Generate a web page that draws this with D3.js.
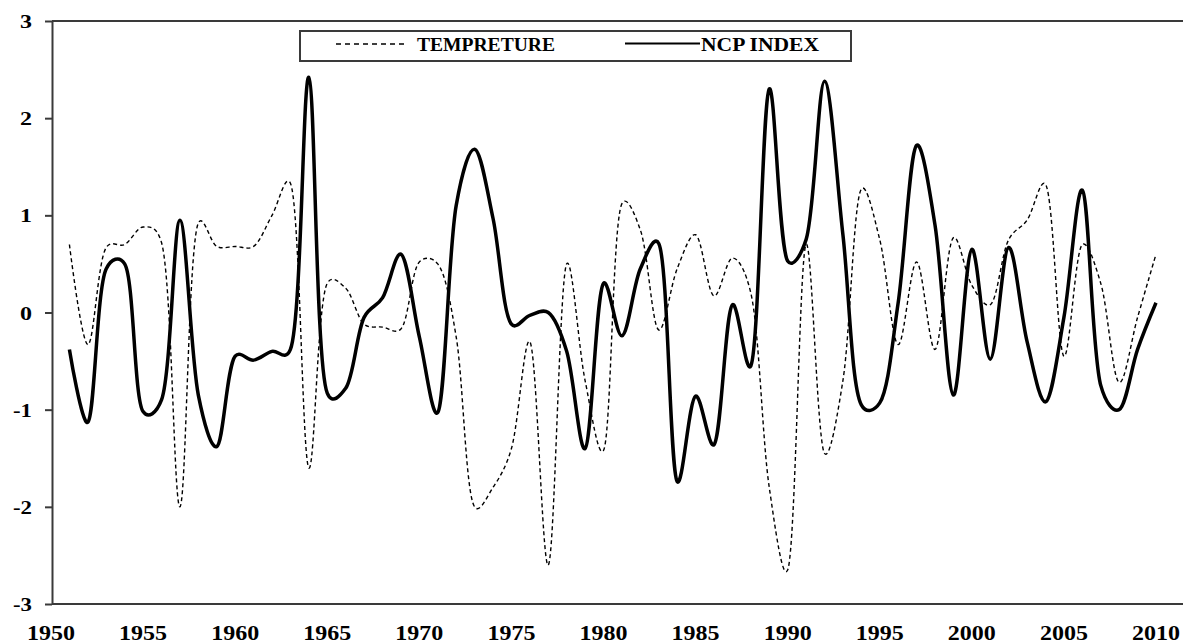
<!DOCTYPE html>
<html>
<head>
<meta charset="utf-8">
<script src="https://cdn.jsdelivr.net/npm/d3@7"></script>
<style>
  body { margin: 0; background: #fff; }
  text { font-family: "Liberation Serif", "Times New Roman", serif; font-weight: bold; fill: #000; }
</style>
</head>
<body>
<div id="chart"></div>
<script>
const years = [1951, 1952, 1953, 1954, 1955, 1956, 1957, 1958, 1959, 1960,
  1961, 1962, 1963, 1964, 1965, 1966, 1967, 1968, 1969, 1970,
  1971, 1972, 1973, 1974, 1975, 1976, 1977, 1978, 1979, 1980,
  1981, 1982, 1983, 1984, 1985, 1986, 1987, 1988, 1989, 1990,
  1991, 1992, 1993, 1994, 1995, 1996, 1997, 1998, 1999, 2000,
  2001, 2002, 2003, 2004, 2005, 2006, 2007, 2008, 2009, 2010];

const temperature = [0.70, -0.33, 0.67, 0.70, 0.88, 0.72, -2.00, 0.92, 0.68, 0.68,
  0.68, 1.00, 1.33, -1.60, 0.30, 0.25, -0.12, -0.15, -0.17, 0.52,
  0.50, -0.25, -2.00, -1.80, -1.40, -0.30, -2.60, 0.50, -0.70, -1.42,
  1.12, 0.85, -0.18, 0.45, 0.80, 0.17, 0.56, 0.20, -1.80, -2.65,
  0.70, -1.45, -0.70, 1.27, 0.75, -0.33, 0.52, -0.38, 0.77, 0.28,
  0.08, 0.75, 0.95, 1.32, -0.45, 0.70, 0.30, -0.72, -0.05, 0.60];

const ncpIndex = [-0.38, -1.13, 0.45, 0.50, -1.02, -0.90, 0.95, -0.85, -1.38, -0.45,
  -0.49, -0.40, -0.38, 2.42, -0.83, -0.78, -0.05, 0.15, 0.60, -0.25,
  -1.03, 1.10, 1.68, 0.97, -0.12, -0.03, 0.00, -0.40, -1.40, 0.30,
  -0.24, 0.45, 0.71, -1.74, -0.86, -1.36, 0.08, -0.55, 2.30, 0.53,
  0.75, 2.38, 0.80, -0.95, -0.93, 0.10, 1.72, 0.90, -0.85, 0.65,
  -0.48, 0.67, -0.30, -0.92, -0.05, 1.26, -0.75, -1.00, -0.38, 0.10];

const xTicks = [1950, 1955, 1960, 1965, 1970, 1975, 1980, 1985, 1990, 1995, 2000, 2005, 2010];
const yTicks = [-3, -2, -1, 0, 1, 2, 3];

const width = 1183;
const height = 643;

const svg = d3
  .select("#chart")
  .append("svg")
  .attr("width", width)
  .attr("height", height);

const x = d3.scaleLinear().domain([1950, 2010]).range([51, 1156]);
const y = d3.scaleLinear().domain([-3, 3]).range([604, 21]);

const axisColor = "#3a3a3a";

// frame: top border, left axis, bottom axis
svg.append("line")
  .attr("x1", 52).attr("x2", width)
  .attr("y1", y(3)).attr("y2", y(3))
  .attr("stroke", axisColor).attr("stroke-width", 2);

svg.append("line")
  .attr("x1", 52).attr("x2", width)
  .attr("y1", y(-3)).attr("y2", y(-3))
  .attr("stroke", axisColor).attr("stroke-width", 2);

const yAxis = svg.append("g")
  .attr("transform", "translate(52,0)")
  .call(d3.axisLeft(y).tickValues(yTicks).tickSize(7).tickSizeOuter(0).tickFormat(""));

yAxis.select(".domain").attr("stroke", axisColor).attr("stroke-width", 2);
yAxis.selectAll(".tick line").attr("stroke", axisColor).attr("stroke-width", 2);

svg.selectAll(".ylabel")
  .data(yTicks)
  .enter()
  .append("text")
  .attr("class", "ylabel")
  .attr("x", 32)
  .attr("y", (d) => y(d) + 7)
  .attr("text-anchor", "end")
  .style("font-size", "19px")
  .attr("textLength", (d) => (d < 0 ? 19 : 12))
  .attr("lengthAdjust", "spacingAndGlyphs")
  .text((d) => d);

svg.selectAll(".xlabel")
  .data(xTicks)
  .enter()
  .append("text")
  .attr("class", "xlabel")
  .attr("x", (d) => x(d))
  .attr("y", 640)
  .attr("text-anchor", "middle")
  .style("font-size", "20px")
  .attr("textLength", 48)
  .attr("lengthAdjust", "spacingAndGlyphs")
  .text((d) => d);

// smoothing between uniform and centripetal Catmull-Rom
const smooth = d3.curveCatmullRom.alpha(0.3);

const tempLine = d3.line()
  .x((d, i) => x(years[i]))
  .y((d) => y(d))
  .curve(smooth);

const ncpLine = d3.line()
  .x((d, i) => x(years[i]))
  .y((d) => y(d))
  .curve(smooth);

svg.append("path")
  .datum(temperature)
  .attr("fill", "none")
  .attr("stroke", "#000")
  .attr("stroke-width", 1.4)
  .attr("stroke-dasharray", "4,3")
  .attr("d", tempLine);

svg.append("path")
  .datum(ncpIndex)
  .attr("fill", "none")
  .attr("stroke", "#000")
  .attr("stroke-width", 3.5)
  .attr("stroke-linejoin", "round")
  .attr("d", ncpLine);

// legend
const legend = svg.append("g");

legend.append("rect")
  .attr("x", 300).attr("y", 31)
  .attr("width", 551).attr("height", 30)
  .attr("fill", "#fff")
  .attr("stroke", axisColor)
  .attr("stroke-width", 2);

legend.append("line")
  .attr("x1", 336).attr("x2", 404)
  .attr("y1", 44).attr("y2", 44)
  .attr("stroke", "#000")
  .attr("stroke-width", 1.4)
  .attr("stroke-dasharray", "5,4");

legend.append("text")
  .attr("x", 417).attr("y", 51)
  .style("font-size", "19px")
  .attr("textLength", 138)
  .attr("lengthAdjust", "spacingAndGlyphs")
  .text("TEMPRETURE");

legend.append("line")
  .attr("x1", 625).attr("x2", 700)
  .attr("y1", 43.5).attr("y2", 43.5)
  .attr("stroke", "#000")
  .attr("stroke-width", 2.2);

legend.append("text")
  .attr("x", 701).attr("y", 51)
  .style("font-size", "19px")
  .attr("textLength", 118)
  .attr("lengthAdjust", "spacingAndGlyphs")
  .text("NCP INDEX");
</script>
</body>
</html>
